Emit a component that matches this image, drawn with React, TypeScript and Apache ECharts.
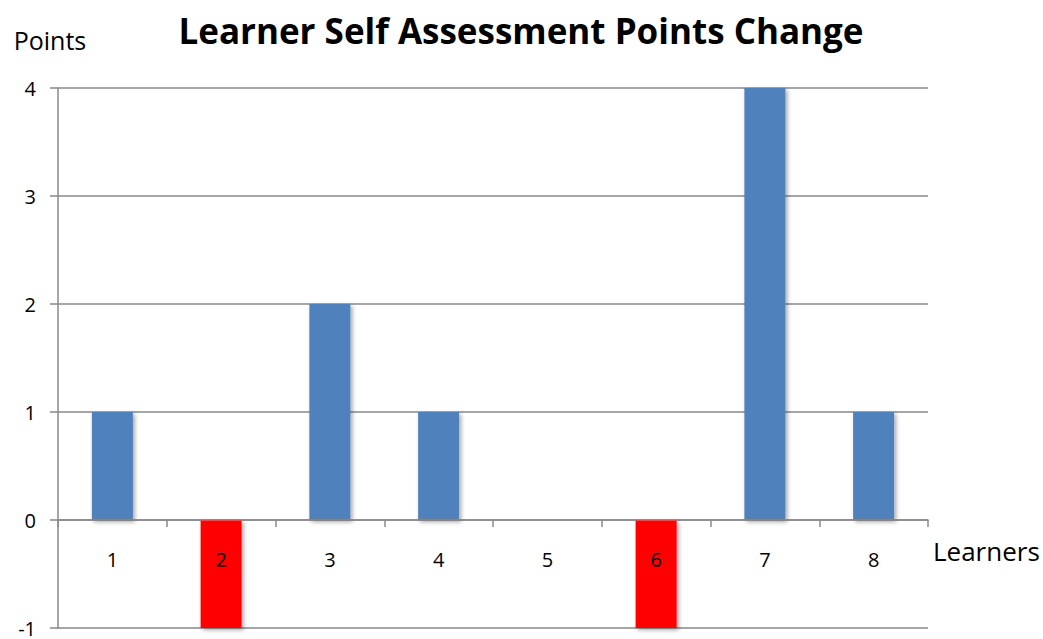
import React, { useEffect, useRef } from "react";
import * as echarts from "echarts";

const categories = ["1", "2", "3", "4", "5", "6", "7", "8"];
const values = [1, -1, 2, 1, 0, -1, 4, 1];
const yTicks = { min: -1, max: 4, interval: 1 };

const BLUE = "#4F81BD";
const RED = "#FF0000";
const FONT = "'Open Sans', 'Liberation Sans', sans-serif";

// chart div covers the whole page (absolutely positioned at 0,0)
const W = 1043;
const H = 639;
const GRID_TOP = 88;
const GRID_BOTTOM = 11;
const GRID_H = H - GRID_TOP - GRID_BOTTOM;

export default function App() {
  const ref = useRef<HTMLDivElement>(null);
  useEffect(() => {
    if (!ref.current) return;
    const chart = echarts.init(ref.current, undefined, { renderer: "svg" });
    const zeroOffset = -(GRID_H * (0 - yTicks.min)) / (yTicks.max - yTicks.min);
    chart.setOption({
      animation: false,
      backgroundColor: "#fff",
      title: {
        text: "Learner Self Assessment Points Change",
        left: 516,
        top: 8,
        textAlign: "center",
        textStyle: { fontFamily: FONT, fontWeight: "bold", fontSize: 35, color: "#000" },
      },
      grid: {
        left: 58,
        right: 115,
        top: GRID_TOP,
        bottom: GRID_BOTTOM,
        containLabel: false,
        outerBoundsMode: "none",
      },
      xAxis: {
        type: "category",
        data: categories,
        position: "bottom",
        offset: zeroOffset,
        z: 5,
        name: "Learners",
        nameLocation: "end",
        nameGap: 5,
        nameTextStyle: { fontFamily: FONT, fontSize: 26, color: "#000", verticalAlign: "top", padding: [18, 0, 0, 0] },
        axisLine: { onZero: false, lineStyle: { color: "#888", width: 1.5 } },
        axisTick: { show: true, inside: false, length: 7, alignWithLabel: false, lineStyle: { color: "#888", width: 1.5 } },
        axisLabel: { fontFamily: FONT, fontSize: 20, color: "#000", margin: 29 },
      },
      yAxis: {
        type: "value",
        min: yTicks.min,
        max: yTicks.max,
        interval: yTicks.interval,
        name: "Points",
        nameLocation: "end",
        nameGap: 36,
        nameTextStyle: { fontFamily: FONT, fontSize: 25, color: "#000", align: "center", padding: [0, 16, 0, 0] },
        axisLine: { show: true, lineStyle: { color: "#888", width: 1.5 } },
        axisTick: { show: true, length: 8, lineStyle: { color: "#888", width: 1.5 } },
        axisLabel: {
          fontFamily: FONT,
          fontSize: 20,
          lineHeight: 16,
          color: "#000",
          margin: 22,
          verticalAlign: "middle",
          padding: [0, 0, 5, 0],
        },
        splitLine: { show: true, lineStyle: { color: "#888", width: 1.5 } },
      },
      series: [
        {
          type: "bar",
          barWidth: 41,
          data: values.map((v) => ({
            value: v,
            itemStyle: {
              color: v < 0 ? RED : BLUE,
              shadowColor: "rgba(0,0,0,0.35)",
              shadowBlur: 4,
              shadowOffsetX: 2,
              shadowOffsetY: 2,
            },
          })),
        },
      ],
    });
    return () => chart.dispose();
  }, []);
  return (
    <div
      ref={ref}
      style={{ position: "absolute", left: 0, top: 0, width: W, height: H }}
    />
  );
}
